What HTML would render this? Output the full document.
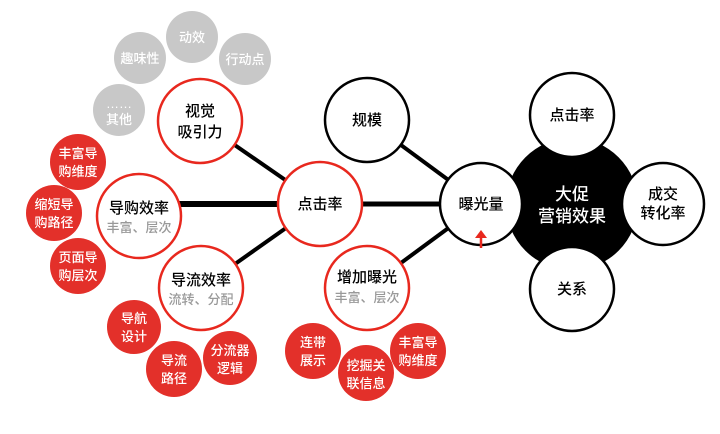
<!DOCTYPE html>
<html><head><meta charset="utf-8"><style>
html,body{margin:0;padding:0;background:#fff}
svg text{font-family:"Liberation Sans","Noto Sans CJK SC",sans-serif;text-anchor:middle;font-weight:500}
</style></head><body>
<svg width="720" height="429" viewBox="0 0 720 429" xmlns="http://www.w3.org/2000/svg">
<g stroke="#000" stroke-width="4">
<line x1="200" y1="121" x2="320" y2="204"/>
<line x1="201" y1="288" x2="320" y2="204"/>
<line x1="139" y1="204" x2="320" y2="204" stroke-width="6"/>
<line x1="320" y1="204" x2="481" y2="204" stroke-width="5"/>
<line x1="367" y1="120" x2="481" y2="204"/>
<line x1="367" y1="288" x2="481" y2="204"/>
</g>
<circle cx="572" cy="204" r="66" fill="#000"/>
<g fill="#fff" stroke="#000" stroke-width="2.5">
<circle cx="367" cy="120" r="42"/>
<circle cx="481" cy="204" r="41"/>
<circle cx="572" cy="115" r="42"/>
<circle cx="663" cy="204" r="41"/>
<circle cx="572" cy="289" r="42"/>
</g>
<g fill="#fff" stroke="#e8281e" stroke-width="2.5">
<circle cx="200" cy="121" r="42"/>
<circle cx="320" cy="204" r="42"/>
<circle cx="139" cy="216" r="42"/>
<circle cx="201" cy="288" r="42"/>
<circle cx="367" cy="288" r="42"/>
</g>
<g fill="#c8c8c8">
<circle cx="192" cy="37" r="26"/><circle cx="140" cy="58" r="26"/>
<circle cx="245" cy="59" r="26"/><circle cx="119" cy="110" r="26"/>
</g>
<g fill="#e3302a">
<circle cx="78" cy="162" r="28"/><circle cx="54" cy="213" r="28"/><circle cx="78" cy="266" r="28"/>
<circle cx="134" cy="327" r="27"/><circle cx="174" cy="369" r="28"/><circle cx="230" cy="358" r="27"/>
<circle cx="313" cy="351" r="28"/><circle cx="366" cy="373" r="28"/><circle cx="418" cy="351" r="28"/>
</g>
<path d="M481 248 V236" stroke="#e8281e" stroke-width="2.5"/>
<path d="M475 238 L481 230 L487 238 Z" fill="#e8281e"/>
<g font-size="15" fill="#000">
<text x="200" y="116">视觉</text><text x="200" y="137">吸引力</text>
<text x="320" y="209">点击率</text>
<text x="139" y="213">导购效率</text>
<text x="201" y="285">导流效率</text>
<text x="367" y="125">规模</text>
<text x="481" y="209">曝光量</text>
<text x="572" y="120">点击率</text>
<text x="663" y="199">成交</text><text x="663" y="218">转化率</text>
<text x="572" y="294">关系</text>
<text x="367" y="282">增加曝光</text>
</g>
<g font-size="17" fill="#fff">
<text x="572" y="200">大促</text><text x="572" y="222">营销效果</text>
</g>
<g font-size="13" fill="#999">
<text x="139" y="232">丰富、层次</text>
<text x="201" y="304">流转、分配</text>
<text x="367" y="302">丰富、层次</text>
</g>
<g font-size="13" fill="#fff">
<text x="192" y="42">动效</text><text x="140" y="63">趣味性</text><text x="245" y="64">行动点</text>
<text x="119" y="108">……</text><text x="119" y="124">其他</text>
<text x="78" y="158">丰富导</text><text x="78" y="176">购维度</text>
<text x="54" y="209">缩短导</text><text x="54" y="227">购路径</text>
<text x="78" y="262">页面导</text><text x="78" y="280">购层次</text>
<text x="134" y="323">导航</text><text x="134" y="341">设计</text>
<text x="174" y="365">导流</text><text x="174" y="383">路径</text>
<text x="230" y="355">分流器</text><text x="230" y="373">逻辑</text>
<text x="313" y="347">连带</text><text x="313" y="365">展示</text>
<text x="366" y="370">挖掘关</text><text x="366" y="388">联信息</text>
<text x="418" y="347">丰富导</text><text x="418" y="365">购维度</text>
</g>
</svg>
</body></html>
